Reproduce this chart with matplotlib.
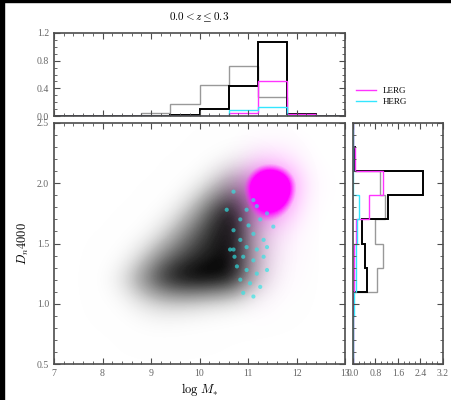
import matplotlib
matplotlib.use('Agg')
import matplotlib.pyplot as plt
import numpy as np
from matplotlib.colors import LinearSegmentedColormap
from matplotlib.ticker import MultipleLocator

plt.rcParams['font.family'] = ['Liberation Serif', 'DejaVu Serif']
plt.rcParams['mathtext.fontset'] = 'cm'
plt.rcParams['font.size'] = 7

# histogram bins
mass_edges = [7.0, 7.6, 8.2, 8.8, 9.4, 10.0, 10.6, 11.2, 11.8, 12.4, 13.0]
d4_edges = [0.5, 0.7, 0.9, 1.1, 1.3, 1.5, 1.7, 1.9, 2.1, 2.3, 2.5]

# top histogram (log M*), normalised counts
mass_all = [0, 0, 0, 0.05, 0.17, 0.45, 0.72, 0.27, 0.02, 0]
mass_radio = [0, 0, 0, 0, 0.01, 0.10, 0.44, 1.07, 0.03, 0]
mass_lerg = [0, 0, 0, 0, 0, 0, 0.05, 0.50, 0.03, 0]
mass_herg = [0, 0, 0, 0, 0, 0, 0.09, 0.13, 0, 0]

# right histogram (Dn4000)
d4_all = [0, 0, 0, 0.86, 1.05, 0.80, 1.13, 0.95, 0.03, 0]
d4_radio = [0, 0, 0, 0.49, 0.44, 0.32, 1.25, 2.50, 0.06, 0]
d4_lerg = [0, 0, 0, 0.03, 0.05, 0.10, 0.56, 1.07, 0.06, 0]
d4_herg = [0, 0, 0.05, 0.10, 0.12, 0.15, 0.20, 0, 0, 0]

# density of all galaxies, rows = Dn4000 0.6..2.4, cols = log M 7.25..12.75
gal_density = np.array([
    [0, 0, 0, 0,    0,    0,    0,    0,    0,    0,    0, 0],
    [0, 0, 0, 0.06, 0.09, 0.06, 0.03, 0,    0,    0,    0, 0],
    [0, 0, 0.07, 0.27, 0.38, 0.38, 0.32, 0.27, 0.12, 0.03, 0, 0],
    [0, 0, 0.22, 0.58, 0.88, 0.97, 0.97, 0.88, 0.38, 0.08, 0, 0],
    [0, 0, 0.07, 0.33, 0.65, 0.80, 0.88, 0.92, 0.42, 0.10, 0, 0],
    [0, 0, 0,    0.09, 0.33, 0.65, 0.85, 0.93, 0.42, 0.10, 0, 0],
    [0, 0, 0,    0,    0.11, 0.38, 0.75, 0.97, 0.50, 0.10, 0, 0],
    [0, 0, 0,    0,    0,    0.13, 0.38, 0.65, 0.40, 0.10, 0, 0],
    [0, 0, 0,    0,    0,    0,    0.11, 0.22, 0.16, 0.03, 0, 0],
    [0, 0, 0,    0,    0,    0,    0,    0.03, 0.03, 0,    0, 0],
])

# density of LERGs on the same grid
lerg_density = np.array([
    [0, 0, 0, 0, 0, 0, 0, 0,    0,    0,    0,    0],
    [0, 0, 0, 0, 0, 0, 0, 0,    0,    0,    0,    0],
    [0, 0, 0, 0, 0, 0, 0, 0,    0.05, 0,    0,    0],
    [0, 0, 0, 0, 0, 0, 0, 0,    0.15, 0.05, 0,    0],
    [0, 0, 0, 0, 0, 0, 0, 0.05, 0.20, 0.10, 0,    0],
    [0, 0, 0, 0, 0, 0, 0, 0.05, 0.28, 0.18, 0,    0],
    [0, 0, 0, 0, 0, 0, 0, 0.12, 0.72, 0.58, 0.02, 0],
    [0, 0, 0, 0, 0, 0, 0, 0.25, 0.95, 0.85, 0.08, 0],
    [0, 0, 0, 0, 0, 0, 0, 0,    0.30, 0.25, 0,    0],
    [0, 0, 0, 0, 0, 0, 0, 0,    0,    0,    0,    0],
])

# HERG points
herg_mass = [10.70, 10.97, 11.18, 10.84, 11.01, 10.70, 11.11, 10.84, 11.32, 10.97,
             10.70, 11.18, 11.39, 10.90, 11.11, 11.32, 10.77, 10.97, 11.18, 11.39,
             10.84, 11.04, 11.25, 10.90, 11.11, 10.72, 11.52, 11.25, 11.39, 11.11,
             10.56, 10.63]
herg_d4 = [1.93, 1.78, 1.81, 1.70, 1.65, 1.61, 1.58, 1.53, 1.53, 1.47,
           1.45, 1.45, 1.47, 1.39, 1.36, 1.39, 1.31, 1.28, 1.25, 1.28,
           1.20, 1.17, 1.14, 1.09, 1.06, 1.39, 1.64, 1.70, 1.75, 1.86,
           1.78, 1.45]

fig = plt.figure(figsize=(4.52, 4.0), dpi=100)
fig.patches.append(plt.Rectangle((0, 0), 4 / 452., 1, transform=fig.transFigure, color='black', zorder=10))
fig.patches.append(plt.Rectangle((0, 1 - 2 / 400.), 1, 2 / 400., transform=fig.transFigure, color='black', zorder=10))

ax = fig.add_axes([0.1195, 0.09, 0.644, 0.6025])
axt = fig.add_axes([0.1195, 0.71, 0.644, 0.2075])
axr = fig.add_axes([0.781, 0.09, 0.199, 0.6025])

grey_cmap = LinearSegmentedColormap.from_list('g', [(1, 1, 1, 0), (0.5, 0.5, 0.5, 0.55), (0.05, 0.05, 0.05, 1)])
ax.imshow(gal_density, origin='lower', extent=[7, 13, 0.5, 2.5], aspect='auto',
          cmap=grey_cmap, vmin=0, vmax=0.9, interpolation='bicubic')
mag_cmap = LinearSegmentedColormap.from_list('m', [(0.0, (1, 0.6, 1, 0)), (0.2, (1, 0.5, 1, 0.18)),
                                                  (0.45, (1, 0.3, 1, 0.35)), (0.6, (1, 0, 1, 1)),
                                                  (1.0, (1, 0, 1, 1))])
ax.imshow(lerg_density, origin='lower', extent=[7, 13, 0.5, 2.5], aspect='auto',
          cmap=mag_cmap, vmin=0, vmax=0.9, interpolation='bicubic')
ax.scatter(herg_mass, herg_d4, s=9, color='#2ee6e6', alpha=0.65, edgecolors='none')

ax.set_xlim(7, 13)
ax.set_ylim(0.5, 2.5)
ax.set_xlabel(r'$\log\,M_{*}$', fontsize=9, labelpad=2)
ax.set_ylabel(r'$D_{n}4000$', fontsize=9, labelpad=4)
ax.xaxis.set_major_locator(MultipleLocator(1))
ax.xaxis.set_minor_locator(MultipleLocator(0.2))
ax.yaxis.set_major_locator(MultipleLocator(0.5))
ax.yaxis.set_minor_locator(MultipleLocator(0.1))

# top histogram
axt.stairs(mass_all, mass_edges, color='0.6', lw=1.0)
axt.stairs(mass_radio, mass_edges, color='black', lw=1.4)
axt.stairs(mass_lerg, mass_edges, color='#ff33ff', lw=1.0, label='LERG')
axt.stairs(mass_herg, mass_edges, color='#33e6ff', lw=1.0, label='HERG')
axt.set_xlim(7, 13)
axt.set_ylim(0, 1.2)
axt.xaxis.set_major_locator(MultipleLocator(1))
axt.xaxis.set_minor_locator(MultipleLocator(0.2))
axt.yaxis.set_major_locator(MultipleLocator(0.4))
axt.yaxis.set_minor_locator(MultipleLocator(0.1))
axt.set_xticklabels([])
axt.set_title(r'$0.0 < z \leq 0.3$', fontsize=8, pad=9)
axt.legend(loc='center left', bbox_to_anchor=(1.01, 0.24), frameon=False, fontsize=6.5,
           handlelength=2.2, labelspacing=0.3)

# right histogram
axr.stairs(d4_all, d4_edges, orientation='horizontal', color='0.6', lw=1.0)
axr.stairs(d4_radio, d4_edges, orientation='horizontal', color='black', lw=1.4)
axr.stairs(d4_lerg, d4_edges, orientation='horizontal', color='#ff33ff', lw=1.0)
axr.stairs(d4_herg, d4_edges, orientation='horizontal', color='#33e6ff', lw=1.0)
axr.set_ylim(0.5, 2.5)
axr.set_xlim(0, 3.2)
axr.xaxis.set_major_locator(MultipleLocator(0.8))
axr.xaxis.set_minor_locator(MultipleLocator(0.2))
axr.yaxis.set_major_locator(MultipleLocator(0.5))
axr.yaxis.set_minor_locator(MultipleLocator(0.1))
axr.set_yticklabels([])

for a in [ax, axt, axr]:
    a.tick_params(which='both', direction='in', top=True, right=True, colors='0.3', labelcolor='0.4')
    a.tick_params(which='major', length=4)
    a.tick_params(which='minor', length=2)
    for s in a.spines.values():
        s.set_color('0.3')
        s.set_linewidth(1.2)

fig.savefig('out.png', dpi=100)
